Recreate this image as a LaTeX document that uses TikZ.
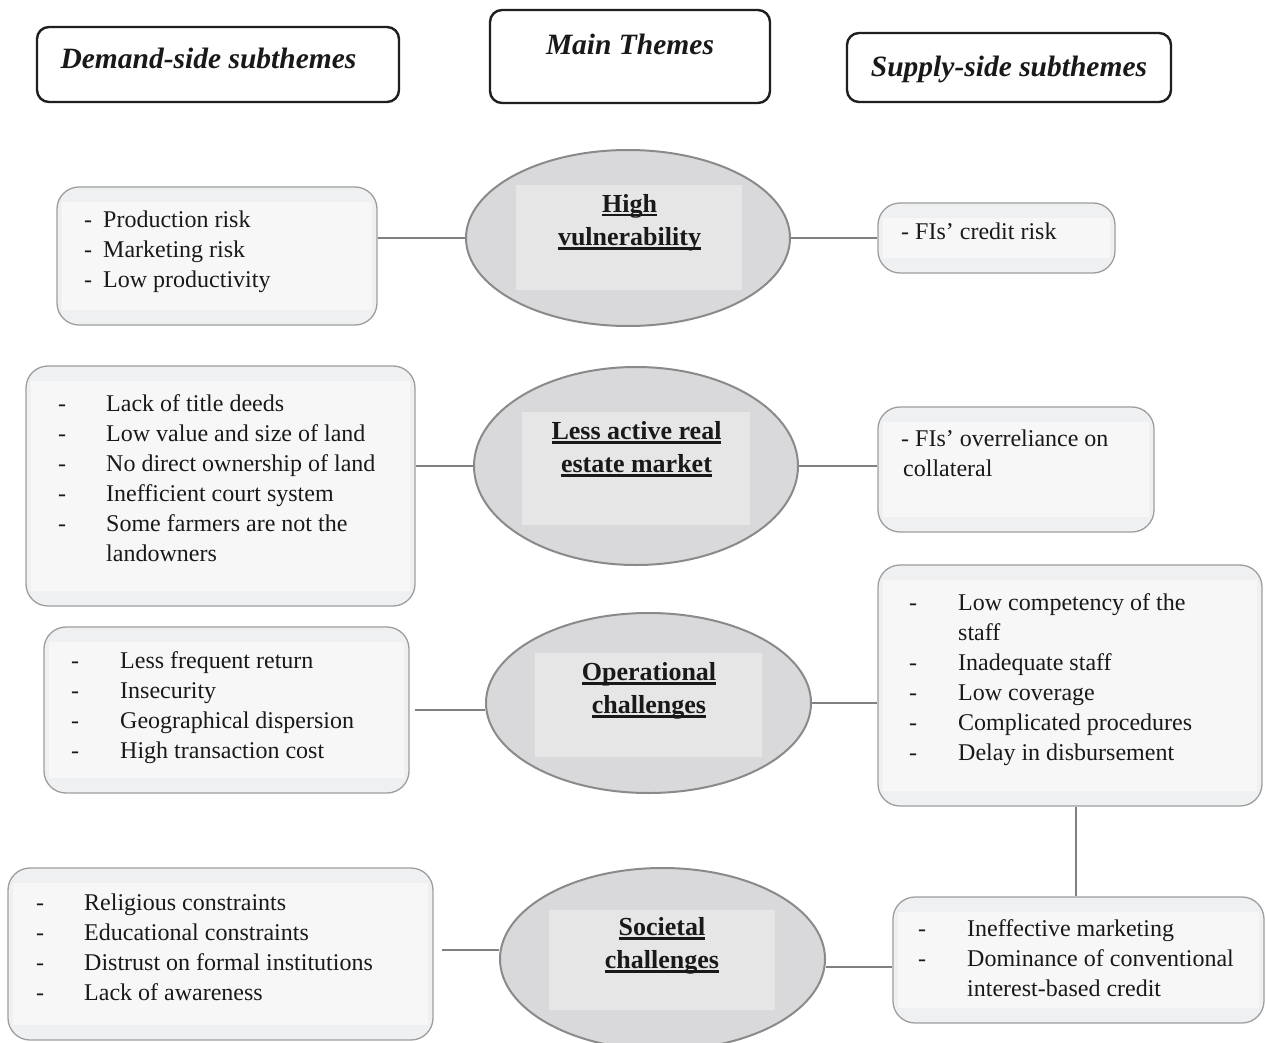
\documentclass[tikz,border=0pt]{standalone}
\usepackage{fontspec}
\setmainfont{Liberation Serif}
\usetikzlibrary{shapes.geometric,calc}
\definecolor{boxfill}{RGB}{239,240,242}
\definecolor{boxinner}{RGB}{247,247,248}
\definecolor{boxline}{RGB}{158,158,158}
\definecolor{ellfill}{RGB}{217,217,219}
\definecolor{ellinner}{RGB}{230,230,230}
\definecolor{ellline}{RGB}{138,138,138}
\definecolor{connline}{RGB}{128,128,128}
\newcommand{\lst}[1]{\begin{tabular}[t]{@{}l@{}}#1\end{tabular}}
\newcommand{\ctr}[1]{\begin{tabular}[t]{@{}c@{}}#1\end{tabular}}
\newcommand{\thul}[1]{\setbox0\hbox{#1}\rlap{\rule[-4.5pt]{\wd0}{2.2pt}}\box0}
\begin{document}
\begin{tikzpicture}[x=1pt,y=-1pt,
  hdr/.style={draw=black!88, line width=2.4pt, rounded corners=12pt, fill=white, inner sep=0pt},
  sbox/.style={draw=boxline, line width=1.3pt, rounded corners=22pt, fill=boxfill, inner sep=0pt},
  theme/.style={ellipse, draw=ellline, line width=2pt, fill=ellfill, inner sep=0pt},
  einner/.style={fill=ellinner, inner sep=0pt},
  conn/.style={draw=connline, line width=2pt},
  itemtext/.style={font=\fontsize{24}{30}\selectfont, anchor=base west, inner sep=0pt, text=black!90},
  ttext/.style={font=\fontsize{26}{33}\selectfont\bfseries, anchor=base, inner sep=0pt, text=black!90},
  htext/.style={font=\fontsize{29.5}{34}\selectfont\bfseries\itshape, anchor=base, inner sep=0pt, text=black!90}]
\useasboundingbox (0,0) rectangle (1266,1043);
\fill[white] (0,0) rectangle (1266,1043);

% headers
\node[hdr, minimum width=362pt, minimum height=75pt] (hD) at (218,64.5) {};
\node[hdr, minimum width=280pt, minimum height=93pt] (hM) at (630,56.5) {};
\node[hdr, minimum width=324pt, minimum height=69pt] (hS) at (1009,67.5) {};
\node[htext] (tD) at (208.5,69) {Demand-side subthemes};
\node[htext] (tM) at (630,55) {Main Themes};
\node[htext] (tS) at (1009,77) {Supply-side subthemes};

% left boxes
\node[sbox, minimum width=320pt, minimum height=138pt] (L1) at (217,256) {};
\node[sbox, minimum width=389pt, minimum height=240pt] (L2) at (220.5,486) {};
\node[sbox, minimum width=365pt, minimum height=166pt] (L3) at (226.5,710) {};
\node[sbox, minimum width=425pt, minimum height=172pt] (L4) at (220.5,954) {};
% right boxes
\node[sbox, minimum width=237pt, minimum height=70pt] (R1) at (996.5,238) {};
\node[sbox, minimum width=276pt, minimum height=125pt] (R2) at (1016,469.5) {};
\node[sbox, minimum width=384pt, minimum height=241pt] (R3) at (1070,685.5) {};
\node[sbox, minimum width=371pt, minimum height=126pt] (R4) at (1078.5,960) {};

\foreach \b in {L1,L2,L3,L4,R1,R2,R3,R4}{
  \fill[boxinner] ([xshift=6pt,yshift=-16pt]\b.north west) rectangle ([xshift=-6pt,yshift=16pt]\b.south east);
}

% themes
\node[theme, minimum width=324pt, minimum height=176pt] (E1) at (628,238) {};
\node[theme, minimum width=324pt, minimum height=198pt] (E2) at (636,466) {};
\node[theme, minimum width=325pt, minimum height=180pt] (E3) at (648.5,703) {};
\node[theme, minimum width=325pt, minimum height=182pt] (E4) at (662.5,959) {};
\node[einner, minimum width=226pt, minimum height=105pt] (I1) at (629,237.5) {};
\node[einner, minimum width=228pt, minimum height=113pt] (I2) at (636,468.5) {};
\node[einner, minimum width=227pt, minimum height=104pt] (I3) at (648.5,705) {};
\node[einner, minimum width=226pt, minimum height=100pt] (I4) at (662,960) {};
\node[ttext] (T1) at (629.5,212) {\ctr{\thul{High}\\\thul{vulnerability}}};
\node[ttext] (T2) at (636.5,439) {\ctr{\thul{Less active real}\\\thul{estate market}}};
\node[ttext] (T3) at (649,680) {\ctr{\thul{Operational}\\\thul{challenges}}};
\node[ttext] (T4) at (662,935) {\ctr{\thul{Societal}\\\thul{challenges}}};

% item texts
\node[itemtext] (d1) at (84,227) {\lst{-\\-\\-}};
\node[itemtext] (x1) at (103,227) {\lst{Production risk\\Marketing risk\\Low productivity}};
\node[itemtext] (d2) at (58,411) {\lst{-\\-\\-\\-\\-}};
\node[itemtext] (x2) at (106,411) {\lst{Lack of title deeds\\Low value and size of land\\No direct ownership of land\\Inefficient court system\\Some farmers are not the\\landowners}};
\node[itemtext] (d3) at (71,668) {\lst{-\\-\\-\\-}};
\node[itemtext] (x3) at (120,668) {\lst{Less frequent return\\Insecurity\\Geographical dispersion\\High transaction cost}};
\node[itemtext] (d4) at (36,910) {\lst{-\\-\\-\\-}};
\node[itemtext] (x4) at (84,910) {\lst{Religious constraints\\Educational constraints\\Distrust on formal institutions\\Lack of awareness}};
\node[itemtext] (x5) at (901,240) {\lst{- FIs’ credit risk}};
\node[itemtext] (x6) at (901,446) {\lst{- FIs’ overreliance on\\\hspace*{2pt}collateral}};
\node[itemtext] (d7) at (909,610) {\lst{-\\\\-\\-\\-\\-}};
\node[itemtext] (x7) at (958,610) {\lst{Low competency of the\\staff\\Inadequate staff\\Low coverage\\Complicated procedures\\Delay in disbursement}};
\node[itemtext] (d8) at (918,936) {\lst{-\\-}};
\node[itemtext] (x8) at (967,936) {\lst{Ineffective marketing\\Dominance of conventional\\interest-based credit}};

% connectors
\draw[conn] (E1.west) -- (E1.west -| L1.east);
\draw[conn] (E1.east) -- (E1.east -| R1.west);
\draw[conn] (E2.west) -- (E2.west -| L2.east);
\draw[conn] (E2.east) -- (E2.east -| R2.west);
\draw[conn] ([xshift=5pt]L3.east) -- (L3.east -| E3.west);
\draw[conn] (E3.east) -- (E3.east -| R3.west);
\draw[conn] ([xshift=8pt,yshift=4pt]L4.east) -- ([yshift=4pt]L4.east -| E4.west);
\draw[conn] ([yshift=-8pt]E4.east) -- ([yshift=-8pt]E4.east -| R4.west);
\draw[conn] ([xshift=6pt]R3.south) -- ([xshift=6pt]R3.south |- R4.north);
\end{tikzpicture}
\end{document}
